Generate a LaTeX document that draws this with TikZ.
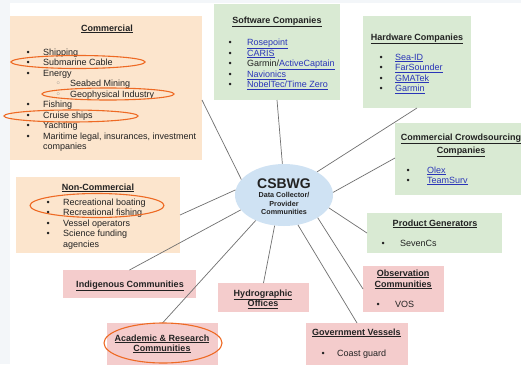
\documentclass[tikz,border=0pt]{standalone}
\usepackage{fontspec}
\setmainfont{Liberation Sans}
\newfontfamily\dejavu{DejaVu Sans}
\usetikzlibrary{calc,shapes.geometric}
\definecolor{peach}{HTML}{FCE5CD}
\definecolor{mint}{HTML}{D9EAD3}
\definecolor{rose}{HTML}{F4CCCC}
\definecolor{skyb}{HTML}{CFE2F3}
\definecolor{linkblue}{HTML}{2A35B8}
\definecolor{conn}{HTML}{707070}
\definecolor{annot}{HTML}{EE6A24}
\definecolor{slidebg}{HTML}{F3F6F9}
\definecolor{bodytext}{HTML}{222222}
\newcommand{\lnk}[1]{\textcolor{linkblue}{\underline{#1}}}
\newcommand{\bl}[1]{\makebox[#1][l]{•}}
\newcommand{\sbl}{\makebox[14.5pt][l]{{\dejavu\color{gray}◦}}}
\tikzset{
  boxnode/.style={rectangle, draw=none, inner sep=0pt, outer sep=0pt, anchor=north west},
  txt/.style={inner sep=0pt, anchor=base west, text=bodytext, font=\fontsize{9}{10.5}\selectfont},
  hdg/.style={inner sep=0pt, anchor=base, text=bodytext, font=\fontsize{9}{10.5}\selectfont\bfseries},
  connector/.style={draw=conn, line width=0.7pt},
  ring/.style={draw=annot, line width=1.1pt}
}
\begin{document}
\begin{tikzpicture}[x=1pt,y=-1pt]
\useasboundingbox (0,0) rectangle (521,364);
\fill[slidebg] (0,0) rectangle (521,364);
\fill[white] (10,3) rectangle (521,364);

% boxes
\node[boxnode, fill=peach, minimum width=192pt, minimum height=144pt] (commercial) at (10,16) {};
\node[boxnode, fill=mint, minimum width=126pt, minimum height=96pt] (software) at (214,4) {};
\node[boxnode, fill=mint, minimum width=108pt, minimum height=92pt] (hardware) at (363,16) {};
\node[boxnode, fill=mint, minimum width=128pt, minimum height=72pt] (crowd) at (395,123) {};
\node[boxnode, fill=mint, minimum width=135pt, minimum height=40pt] (product) at (367,213) {};
\node[boxnode, fill=peach, minimum width=164pt, minimum height=76pt] (noncom) at (16,177) {};
\node[boxnode, fill=rose, minimum width=133pt, minimum height=28pt] (indigenous) at (63,270) {};
\node[boxnode, fill=rose, minimum width=111pt, minimum height=43pt] (academic) at (107,323) {};
\node[boxnode, fill=rose, minimum width=91pt, minimum height=29pt] (hydro) at (218,283) {};
\node[boxnode, fill=rose, minimum width=81pt, minimum height=46pt] (observation) at (363,266) {};
\node[boxnode, fill=rose, minimum width=102pt, minimum height=43pt] (government) at (306,323) {};
\node[ellipse, fill=skyb, draw=none, inner sep=0pt, minimum width=98pt, minimum height=62pt] (csbwg) at (284,195) {};

% connectors
\draw[connector] ($(commercial.north east)+(0,84)$) -- (csbwg.160);
\draw[connector] (software.south) -- (csbwg.93);
\draw[connector] (hardware.south) -- (csbwg.35);
\draw[connector] ($(crowd.north west)+(0,35)$) -- (csbwg.3);
\draw[connector] (product.west) -- (csbwg.-16);
\draw[connector] (observation.west) -- (csbwg.-34);
\draw[connector] (government.north) -- (csbwg.-65);
\draw[connector] (hydro.north) -- (csbwg.-107);
\draw[connector] (academic.north) -- (csbwg.-138);
\draw[connector] (indigenous.north) -- (csbwg.-161);
\draw[connector] ($(noncom.north east)+(0,38)$) -- (csbwg.174);

% CSBWG text
\node[inner sep=0pt, anchor=base, text=bodytext, font=\fontsize{14}{14}\selectfont\bfseries] (csbt) at (284,188) {CSBWG};
\node[inner sep=0pt, anchor=base, text=bodytext, font=\fontsize{7.2}{8.6}\selectfont\bfseries] (csbs) at (284,197.5)
  {\begin{tabular}[t]{@{}c@{}}Data Collector/\\Provider\\Communities\end{tabular}};

% Commercial
\node[hdg] (comh) at (107,31) {\underline{Commercial}};
\node[txt] (coml) at (26.5,55) {\begin{tabular}[t]{@{}l@{}}
\bl{16.5pt}Shipping\\
\bl{16.5pt}Submarine Cable\\
\bl{16.5pt}Energy\\
\hspace{29pt}\sbl Seabed Mining\\
\hspace{29pt}\sbl Geophysical Industry\\
\bl{16.5pt}Fishing\\
\bl{16.5pt}Cruise ships\\
\bl{16.5pt}Yachting\\
\bl{16.5pt}Maritime legal, insurances, investment\\
\hspace{16.5pt}companies
\end{tabular}};

% Software
\node[hdg] (softh) at (277,23) {\underline{Software Companies}};
\node[txt, font=\fontsize{9}{10.3}\selectfont] (softl) at (228.5,45) {\begin{tabular}[t]{@{}l@{}}
\bl{18.5pt}\lnk{Rosepoint}\\
\bl{18.5pt}\lnk{CARIS}\\
\bl{18.5pt}Garmin/\lnk{ActiveCaptain}\\
\bl{18.5pt}\lnk{Navionics}\\
\bl{18.5pt}\lnk{NobelTec/Time Zero}
\end{tabular}};

% Hardware
\node[hdg] (hardh) at (417,40) {\underline{Hardware Companies}};
\node[txt, font=\fontsize{9}{10.6}\selectfont] (hardl) at (379.5,60) {\begin{tabular}[t]{@{}l@{}}
\bl{15.5pt}\lnk{Sea-ID}\\
\bl{15.5pt}\lnk{FarSounder}\\
\bl{15.5pt}\lnk{GMATek}\\
\bl{15.5pt}\lnk{Garmin}
\end{tabular}};

% Crowdsourcing
\node[hdg, font=\fontsize{9}{13}\selectfont\bfseries] (crowdh) at (461,140) {\begin{tabular}[t]{@{}c@{}}
\underline{Commercial Crowdsourcing}\\\underline{Companies}\end{tabular}};
\node[txt, font=\fontsize{9}{10}\selectfont] (crowdl) at (406.5,173) {\begin{tabular}[t]{@{}l@{}}
\bl{20.5pt}\lnk{Olex}\\
\bl{20.5pt}\lnk{TeamSurv}
\end{tabular}};

% Product
\node[hdg] (prodh) at (435,226) {\underline{Product Generators}};
\node[txt] (prodl) at (381.5,246) {\bl{18.5pt}SevenCs};

% Non-commercial
\node[hdg] (nonh) at (98,190) {\underline{Non-Commercial}};
\node[txt] (nonl) at (46.5,205) {\begin{tabular}[t]{@{}l@{}}
\bl{16.5pt}Recreational boating\\
\bl{16.5pt}Recreational fishing\\
\bl{16.5pt}Vessel operators\\
\bl{16.5pt}Science funding\\
\hspace{16.5pt}agencies
\end{tabular}};

% Indigenous
\node[hdg] (indh) at (130,287) {\underline{Indigenous Communities}};

% Academic
\node[hdg, font=\fontsize{9}{10}\selectfont\bfseries] (acah) at (162,341) {\begin{tabular}[t]{@{}c@{}}
\underline{Academic \& Research}\\\underline{Communities}\end{tabular}};

% Hydrographic
\node[hdg, font=\fontsize{9}{10}\selectfont\bfseries] (hydh) at (263,296) {\begin{tabular}[t]{@{}c@{}}
\underline{Hydrographic}\\\underline{Offices}\end{tabular}};

% Observation
\node[hdg, font=\fontsize{9}{11}\selectfont\bfseries] (obsh) at (403,276) {\begin{tabular}[t]{@{}c@{}}
\underline{Observation}\\\underline{Communities}\end{tabular}};
\node[txt] (obsl) at (376.5,307) {\bl{18.5pt}VOS};

% Government
\node[hdg, anchor=base west] (govh) at (312,335) {\underline{Government Vessels}};
\node[txt] (govl) at (321.5,356) {\bl{15.5pt}Coast guard};

% orange annotation rings
\draw[ring] (78,62) ellipse [x radius=67, y radius=6.5];
\draw[ring] (108,94) ellipse [x radius=66, y radius=6];
\draw[ring] (71,116) ellipse [x radius=67, y radius=6];
\draw[ring] (97,205.5) ellipse [x radius=67, y radius=12];
\draw[ring] (163,343) ellipse [x radius=59, y radius=20];
\end{tikzpicture}
\end{document}
